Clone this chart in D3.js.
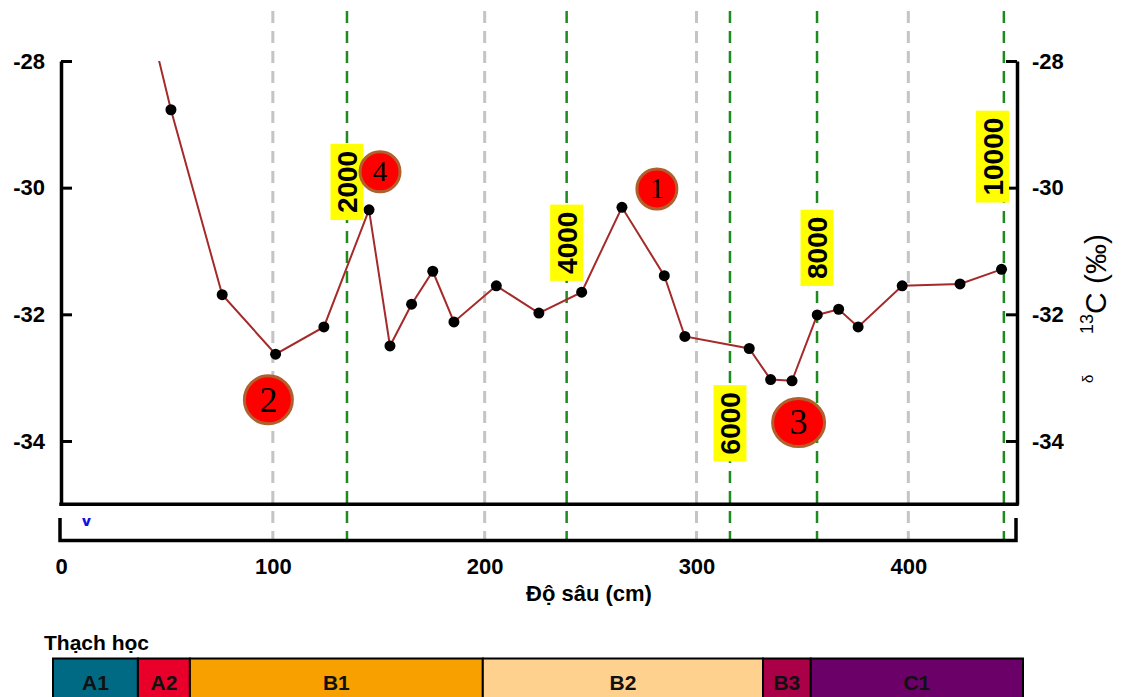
<!DOCTYPE html>
<html><head><meta charset="utf-8">
<script src="https://cdn.jsdelivr.net/npm/d3@7"></script>
<style>
body{margin:0;background:#fff}
svg{display:block}
</style>
</head><body>
<svg id="chart" width="1126" height="697" font-family="'Liberation Sans',Arial,Helvetica,sans-serif"></svg>
<script>
// ---------- data ----------
const depth = [42, 51.9, 76.1, 101.3, 124.1, 145.4, 155.3, 165.5, 175.5, 185.5, 205.5, 225.6, 245.8,
               264.8, 284.8, 294.5, 324.9, 335.0, 345.1, 357.0, 367.1, 376.3, 397.1, 424.4, 444.0];
const d13C  = [-27.4, -28.77, -31.69, -32.63, -32.20, -30.35, -32.50, -31.84, -31.32, -32.12, -31.55, -31.98, -31.65,
               -30.31, -31.39, -32.35, -32.54, -33.03, -33.05, -32.01, -31.92, -32.20, -31.55, -31.52, -31.29];

const depthTicks = [0, 100, 200, 300, 400];
const valueTicks = [-28, -30, -32, -34];
const gridDepths = [100, 200, 300, 400];

const ageDepths      = [135.0, 238.7, 315.8, 356.9, 445.1];
const ageLabels      = ["2000", "4000", "6000", "8000", "10000"];
const ageLabelValues = [-29.91, -30.87, -33.72, -30.95, -29.51];

const zoneLabels = ["1", "2", "3", "4"];
const zoneDepths = [281.3, 97.9, 348.2, 150.6];
const zoneValues = [-30.02, -33.35, -33.71, -29.75];

const lithNames  = ["A1", "A2", "B1", "B2", "B3", "C1"];
const lithStarts = [0, 40, 64.5, 202.5, 334.5, 357];
const lithEnds   = [40, 64.5, 202.5, 334.5, 357, 457];

const blueMarkDepth = 12;

const xTitle = "Độ sâu (cm)";
const lithTitle = "Thạch học";

// ---------- styles (kept apart from data) ----------
const lithColors = {A1:"#006a85", A2:"#e8002a", B1:"#f7a000", B2:"#ffd18f", B3:"#aa0048", C1:"#6b0068"};
const zoneStyle = {
  "1": {rx:20, ry:20, fs:29},
  "2": {rx:24, ry:24, fs:36},
  "3": {rx:26, ry:24, fs:36},
  "4": {rx:20, ry:20, fs:29}
};
const serif = "'Liberation Serif','Times New Roman',Times,serif";

// ---------- layout ----------
const svg = d3.select("#chart");
svg.append("rect").attr("width",1126).attr("height",697).attr("fill","#fff");

const x = d3.scaleLinear().domain([0, 451.3]).range([61, 1017]);
const y = d3.scaleLinear().domain([-28, -35]).range([61, 504.3]);
const panelTop = 518, panelBottom = 540.5, gridTop = 11;
const fmt = d => String(d);

// gridlines
svg.append("g").selectAll("line").data(gridDepths).join("line")
  .attr("x1", d => x(d)).attr("x2", d => x(d))
  .attr("y1", gridTop).attr("y2", panelBottom)
  .attr("stroke", "#c4c4c4").attr("stroke-width", 3).attr("stroke-dasharray", "12,8");
svg.append("g").selectAll("line").data(ageDepths).join("line")
  .attr("x1", d => x(d)).attr("x2", d => x(d))
  .attr("y1", gridTop).attr("y2", panelBottom)
  .attr("stroke", "#1f8a1f").attr("stroke-width", 2.5).attr("stroke-dasharray", "12,8");

// axes
const tickFont = g => g.selectAll("text").attr("font-size", 22).attr("font-weight", "bold").attr("fill", "#000")
  .attr("font-family", "'Liberation Sans',Arial,sans-serif");
const axStyle = g => {
  g.select(".domain").attr("stroke-width", 3.5).attr("stroke", "#000");
  g.selectAll(".tick line").attr("stroke-width", 3).attr("stroke", "#000");
};
svg.append("g").attr("transform", `translate(${x.range()[0]},0)`)
  .call(d3.axisLeft(y).tickValues(valueTicks).tickSizeInner(-11).tickSizeOuter(0).tickPadding(16).tickFormat(fmt))
  .call(axStyle).call(tickFont);
svg.append("g").attr("transform", `translate(${x.range()[1]},0)`)
  .call(d3.axisRight(y).tickValues(valueTicks).tickSizeInner(-11).tickSizeOuter(0).tickPadding(15).tickFormat(fmt))
  .call(axStyle).call(tickFont);

// frame bottom line
svg.append("line").attr("x1", x.range()[0]-1.75).attr("x2", x.range()[1]+1.75)
  .attr("y1", y.range()[1]).attr("y2", y.range()[1]).attr("stroke","#000").attr("stroke-width",3.5);

// lower panel
svg.append("path")
  .attr("d", `M${x.range()[0]-1},${panelTop} V${panelBottom} H${x.range()[1]-1} V${panelTop}`)
  .attr("fill","none").attr("stroke","#000").attr("stroke-width",3.5);

svg.append("clipPath").attr("id","lowclip").append("rect")
  .attr("x", x.range()[0]).attr("y", panelTop).attr("width", x.range()[1]-x.range()[0]).attr("height", panelBottom-panelTop);
svg.append("text").attr("clip-path","url(#lowclip)")
  .attr("x", x(blueMarkDepth)).attr("y", panelTop + 8).attr("text-anchor","middle")
  .attr("font-size", 20).attr("font-weight","bold").attr("fill","#1010e0").text("V");

// x axis labels
const xa = svg.append("g").attr("transform", `translate(0,${panelBottom})`)
  .call(d3.axisBottom(x).tickValues(depthTicks).tickSize(0).tickPadding(18).tickFormat(fmt));
xa.select(".domain").remove();
xa.call(tickFont);

svg.append("text").attr("x", 589).attr("y", 601).attr("text-anchor","middle")
  .attr("font-size", 22).attr("font-weight","bold").text(xTitle);

// right axis title
const rt = svg.append("g").attr("transform","translate(1106,334) rotate(-90)");
const rtt = rt.append("text").attr("text-anchor","start").attr("font-size",30);
rtt.append("tspan").attr("font-size",18).attr("dy",-13).text("13");
rtt.append("tspan").attr("dy",13).text("C (‰)");
svg.append("g").attr("transform","translate(1093,383) rotate(-90)")
  .append("text").attr("font-size",15).text("δ");

// data
svg.append("clipPath").attr("id","plotclip").append("rect")
  .attr("x", x.range()[0]).attr("y", y.range()[0])
  .attr("width", x.range()[1]-x.range()[0]).attr("height", y.range()[1]-y.range()[0]);
const pts = depth.map((d,i) => [d, d13C[i]]);
const plot = svg.append("g").attr("clip-path","url(#plotclip)");
plot.append("path").datum(pts)
  .attr("d", d3.line().x(d => x(d[0])).y(d => y(d[1])))
  .attr("fill","none").attr("stroke","#a52a2a").attr("stroke-width",2);
plot.selectAll("circle").data(pts).join("circle")
  .attr("cx", d => x(d[0])).attr("cy", d => y(d[1])).attr("r", 5.5).attr("fill","#000");

// age labels
const fsAge = 28, boxThick = 33, padLen = 7;
ageLabels.forEach((lab, i) => {
  const len = lab.length * 0.556 * fsAge + 2*padLen;
  const cx = Math.min(x(ageDepths[i]), x.range()[1] - 8 - boxThick/2);
  const g = svg.append("g").attr("transform", `translate(${cx},${y(ageLabelValues[i])}) rotate(-90)`);
  g.append("rect").attr("x", -len/2).attr("y", -boxThick/2).attr("width", len).attr("height", boxThick).attr("fill","#ffff00");
  g.append("text").attr("text-anchor","middle").attr("y", 0.36*fsAge)
    .attr("font-size", fsAge).attr("font-weight","bold").attr("fill","#000").text(lab);
});

// zone markers
zoneLabels.forEach((lab, i) => {
  const s = zoneStyle[lab];
  const cx = x(zoneDepths[i]), cy = y(zoneValues[i]);
  svg.append("ellipse").attr("cx", cx).attr("cy", cy).attr("rx", s.rx).attr("ry", s.ry)
    .attr("fill","#ff0000").attr("stroke","#b0602c").attr("stroke-width",3);
  svg.append("text").attr("x", cx).attr("y", cy + 0.33*s.fs).attr("text-anchor","middle")
    .style("font-family", serif).attr("font-size", s.fs).attr("fill","#000").text(lab);
});

// lithology
svg.append("text").attr("x", 44).attr("y", 650).attr("font-size", 21).attr("font-weight","bold").text(lithTitle);
const lx = d3.scaleLinear().domain([0, 457]).range([53, 1023]);
const lithTop = 658.5, lithH = 50;
const lg = svg.append("g");
lithNames.forEach((n, i) => {
  lg.append("rect").attr("x", lx(lithStarts[i])).attr("y", lithTop)
    .attr("width", lx(lithEnds[i]) - lx(lithStarts[i])).attr("height", lithH)
    .attr("fill", lithColors[n]).attr("stroke","#000").attr("stroke-width",2);
  lg.append("text").attr("x", (lx(lithStarts[i]) + lx(lithEnds[i]))/2).attr("y", 689.5)
    .attr("text-anchor","middle").attr("font-size", 21).attr("font-weight","bold").attr("fill","#111").text(n);
});
</script>
</body></html>
